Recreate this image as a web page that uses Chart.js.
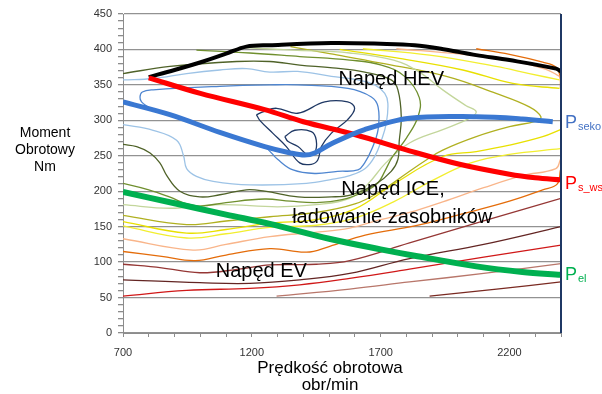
<!DOCTYPE html>
<html lang="pl">
<head>
<meta charset="utf-8">
<title>Mapa sprawności napędu</title>
<script src="https://cdn.jsdelivr.net/npm/chart.js@4.4.1/dist/chart.umd.min.js"></script>
<style>
  html, body { margin: 0; padding: 0; background: #fff; }
  #wrap { position: relative; width: 602px; height: 394px; }
</style>
</head>
<body>
<div id="wrap"><canvas id="chart" width="602" height="394"></canvas></div>
<script>
// Osie
const xTickLabels = [700, 1200, 1700, 2200];
const yTickLabels = [0, 50, 100, 150, 200, 250, 300, 350, 400, 450];

// Krzywe główne [obr/min, Nm]
const maxMoment = [[800,361],[900,371],[1011,383],[1100,394],[1179,404],[1270,406],[1509,409],[1700,408],[1832,406],[1950,400],[2071,392],[2200,385],[2381,373],[2400,369]];
const pSwsp = [[800,360],[1000,338],[1250,315],[1400,298],[1599,280],[1812,257],[2006,238],[2200,224],[2300,219],[2400,216]];
const pSeko = [[700,326],[882,308],[1076,283],[1250,263],[1350,254],[1405,251],[1444,254],[1509,267],[1638,287],[1812,303],[2071,305],[2250,302],[2368,298]];
const pEl = [[700,199],[900,183],[1100,167],[1270,154],[1500,133],[1700,118],[1832,109],[2071,94],[2250,86],[2400,82]];

// Izolinie sprawności
const konturNavyWew = [[1328,277],[1367,286],[1431,284],[1450,272],[1444,254],[1418,251],[1379,263],[1341,270],[1328,277]];
const konturNavyZew = [[1218,308],[1243,312],[1296,317],[1378,310],[1483,326],[1572,326],[1599,317],[1572,301],[1509,282],[1470,263],[1456,244],[1431,238],[1386,240],[1334,263],[1281,282],[1231,300],[1218,308]];
const konturNiebieski = [[800,318],[772,326],[766,333],[775,340],[817,343],[1076,348],[1270,350],[1379,350],[1573,345],[1664,333],[1690,319],[1690,287],[1664,258],[1638,240],[1612,230],[1533,228],[1444,225],[1360,230],[1300,245],[1250,262],[1100,280],[980,295],[882,307],[800,318]];
const konturJasnoniebieski = [[700,357],[817,359],[947,366],[1076,371],[1179,373],[1270,368],[1378,369],[1509,362],[1611,357],[1677,350],[1716,338],[1728,324],[1722,296],[1703,272],[1677,249],[1640,232],[1580,222],[1515,217],[1412,211],[1192,209],[1050,214],[985,221],[947,232],[935,250],[908,272],[817,286],[700,294]];
const konturCiemnaOliwka = [[700,366],[882,376],[1141,383],[1270,383],[1386,378],[1514,374],[1638,368],[1741,357],[1767,343],[1780,305],[1772,270],[1767,245],[1741,228],[1677,209],[1586,195],[1509,192],[1379,192],[1250,200],[1179,202],[1076,195],[998,192],[921,200],[870,222],[843,240],[805,254],[753,263],[700,266]];
const konturOliwka = [[985,399],[1192,395],[1386,390],[1580,385],[1703,378],[1793,362],[1850,332],[1845,305],[1800,275],[1745,248],[1716,228],[1690,212],[1640,200],[1550,188],[1450,184],[1350,186],[1250,189],[1100,184],[1000,179],[948,182],[880,192],[800,202],[700,211]];
const konturJasnozielony = [[1150,403],[1359,399],[1580,395],[1750,385],[1850,368],[1941,343],[2030,321],[2071,312],[2040,302],[1941,287],[1812,268],[1720,240],[1650,210],[1580,190],[1450,181],[1300,178],[1076,181],[882,176],[700,181]];
const konturZoltoOliwkowy = [[1350,404],[1502,394],[1696,381],[1955,362],[2148,338],[2277,319],[2322,305],[2303,299],[2200,291],[2071,277],[1941,258],[1877,244],[1800,225],[1700,200],[1600,182],[1450,170],[1270,164],[1100,158],[947,153],[700,166]];
const konturZolty1Gora = [[1541,400],[1761,388],[2019,371],[2213,352],[2394,345]];
const konturZolty1Dol = [[700,157],[947,141],[1100,146],[1270,155],[1450,160],[1600,175],[1750,210],[1941,249],[2071,256],[2200,265],[2329,277],[2398,287]];
const konturZolty2Gora = [[1631,401],[1890,392],[2148,376],[2277,366],[2394,357]];
const konturZolty2Dol = [[700,151],[947,134],[1100,140],[1270,149],[1450,152],[1600,162],[1750,185],[1900,215],[2050,240],[2200,252],[2398,260]];
const konturLososGora = [[1761,401],[2019,393],[2213,384],[2342,372],[2394,362]];
const konturLososDol = [[700,133],[972,117],[1100,125],[1270,136],[1444,142],[1580,148],[1700,160],[1812,170],[1941,185],[2100,205],[2250,222],[2380,232],[2398,245]];
const konturPomaranczGora = [[2071,401],[2200,393],[2329,382],[2381,375],[2396,362],[2398,345]];
const konturPomaranczDol = [[700,115],[850,108],[980,102],[1100,110],[1270,119],[1412,114],[1500,122],[1640,138],[1832,151],[2006,167],[2200,186],[2329,202],[2385,210],[2398,230]];
const konturBordo = [[700,97],[850,92],[998,85],[1150,90],[1270,96],[1450,97],[1580,102],[1812,127],[2100,158],[2400,190]];
const konturBraz = [[700,75],[998,71],[1192,70],[1386,75],[1580,84],[1812,105],[2100,125],[2400,150]];
const konturCzerwony = [[700,52],[947,60],[1192,63],[1386,68],[1580,77],[1812,90],[2100,107],[2400,124]];
const konturRozowy = [[1296,52],[1580,62],[1812,72],[2100,84],[2400,98]];
const konturBrazDolny = [[1890,52],[2150,62],[2400,72]];

// Napisy
const yTitleLines = ['Moment', 'Obrotowy', 'Nm'];
const xTitleLines = ['Prędkość obrotowa', 'obr/min'];
const etykietyObszarow = [['Napęd HEV', 1741, 350], ['Napęd ICE,', 1748, 195], ['ładowanie zasobników', 1745, 155.5], ['Napęd EV', 1237, 79.4]];
const etykietyMocy = [['seko', 289, '#4472c4'], ['s_wsp', 203, '#ff0000'], ['el', 75, '#00b050']];

const FONT = "'Liberation Sans', Arial, sans-serif";
Chart.defaults.font.family = FONT;

const pts = arr => arr.map(([x, y]) => ({ x, y }));

function contour(data, color) {
  return { data: pts(data), borderColor: color, borderWidth: 1.3, showLine: true, pointRadius: 0, tension: 0.4, order: 2 };
}
function thick(data, color, width) {
  return { data: pts(data), borderColor: color, borderWidth: width, showLine: true, pointRadius: 0, tension: 0.35, order: 1 };
}

const datasets = [
  thick(pEl, '#00b050', 6),
  thick(pSeko, '#3a78d2', 5),
  thick(pSwsp, '#ff0000', 5),
  thick(maxMoment, '#000000', 4),
  contour(konturNavyWew, '#1f3864'),
  contour(konturNavyZew, '#1f3864'),
  contour(konturNiebieski, '#4f86d0'),
  contour(konturJasnoniebieski, '#9dc3e6'),
  contour(konturCiemnaOliwka, '#4f6228'),
  contour(konturOliwka, '#6f8f2e'),
  contour(konturJasnozielony, '#c3d69b'),
  contour(konturZoltoOliwkowy, '#b0b020'),
  contour(konturZolty1Gora, '#e8e000'),
  contour(konturZolty1Dol, '#e8e000'),
  contour(konturZolty2Gora, '#f2ee30'),
  contour(konturZolty2Dol, '#f2ee30'),
  contour(konturLososGora, '#f9b58a'),
  contour(konturLososDol, '#f9b58a'),
  contour(konturPomaranczGora, '#e46c0a'),
  contour(konturPomaranczDol, '#e46c0a'),
  contour(konturBordo, '#953735'),
  contour(konturBraz, '#632523'),
  contour(konturCzerwony, '#d01818'),
  contour(konturRozowy, '#b8766a'),
  contour(konturBrazDolny, '#7a2a22')
];

// Napisy i prawa krawędź wykresu
const napisy = {
  id: 'napisy',
  afterDraw(chart) {
    const { ctx, chartArea: a, scales: { x, y } } = chart;
    ctx.save();

    ctx.strokeStyle = '#1f3864';
    ctx.lineWidth = 2;
    ctx.beginPath();
    ctx.moveTo(a.right, a.top);
    ctx.lineTo(a.right, a.bottom);
    ctx.stroke();

    ctx.fillStyle = '#000';
    ctx.textAlign = 'center';
    ctx.textBaseline = 'alphabetic';
    ctx.font = '20px ' + FONT;
    etykietyObszarow.forEach(([t, rpm, nm]) => ctx.fillText(t, x.getPixelForValue(rpm), y.getPixelForValue(nm)));

    ctx.textAlign = 'left';
    etykietyMocy.forEach(([sub, nm, color]) => {
      const py = y.getPixelForValue(nm);
      const px = a.right + 4;
      ctx.fillStyle = color;
      ctx.font = '18px ' + FONT;
      ctx.fillText('P', px, py);
      const w = ctx.measureText('P').width;
      ctx.font = '11px ' + FONT;
      ctx.fillText(sub, px + w + 1, py + 2);
    });

    ctx.fillStyle = '#000';
    ctx.textAlign = 'center';
    ctx.font = '14px ' + FONT;
    yTitleLines.forEach((t, i) => ctx.fillText(t, 45, 137 + i * 17));
    ctx.font = '17px ' + FONT;
    xTitleLines.forEach((t, i) => ctx.fillText(t, 330, 373 + i * 17));

    ctx.restore();
  }
};

new Chart(document.getElementById('chart'), {
  type: 'scatter',
  data: { datasets },
  options: {
    responsive: false,
    animation: false,
    devicePixelRatio: 1,
    layout: { padding: { top: 14, right: 41, left: 0, bottom: 0 } },
    plugins: { legend: { display: false }, tooltip: { enabled: false } },
    scales: {
      x: {
        type: 'linear',
        min: 700,
        max: 2400,
        afterFit(s) { s.height = 61; },
        ticks: {
          stepSize: 100,
          autoSkip: false,
          maxRotation: 0,
          padding: 9,
          color: '#333333',
          font: { size: 11 },
          callback: v => xTickLabels.includes(v) ? String(v) : ''
        },
        grid: { drawOnChartArea: false, drawTicks: true, tickLength: 4, tickColor: '#8c8c8c' },
        border: { color: '#8c8c8c', width: 1 }
      },
      y: {
        min: 0,
        max: 450,
        afterFit(s) { s.width = 123; },
        ticks: {
          stepSize: 10,
          autoSkip: false,
          padding: 6,
          color: '#333333',
          font: { size: 11 },
          callback: v => yTickLabels.includes(v) ? String(v) : ''
        },
        grid: {
          color: c => c.tick && c.tick.value % 50 === 0 ? '#929292' : 'rgba(0,0,0,0)',
          lineWidth: 1.3,
          drawTicks: true,
          tickLength: 5,
          tickColor: '#8c8c8c'
        },
        border: { color: '#8c8c8c', width: 1 }
      }
    }
  },
  plugins: [napisy]
});
</script>
</body>
</html>
